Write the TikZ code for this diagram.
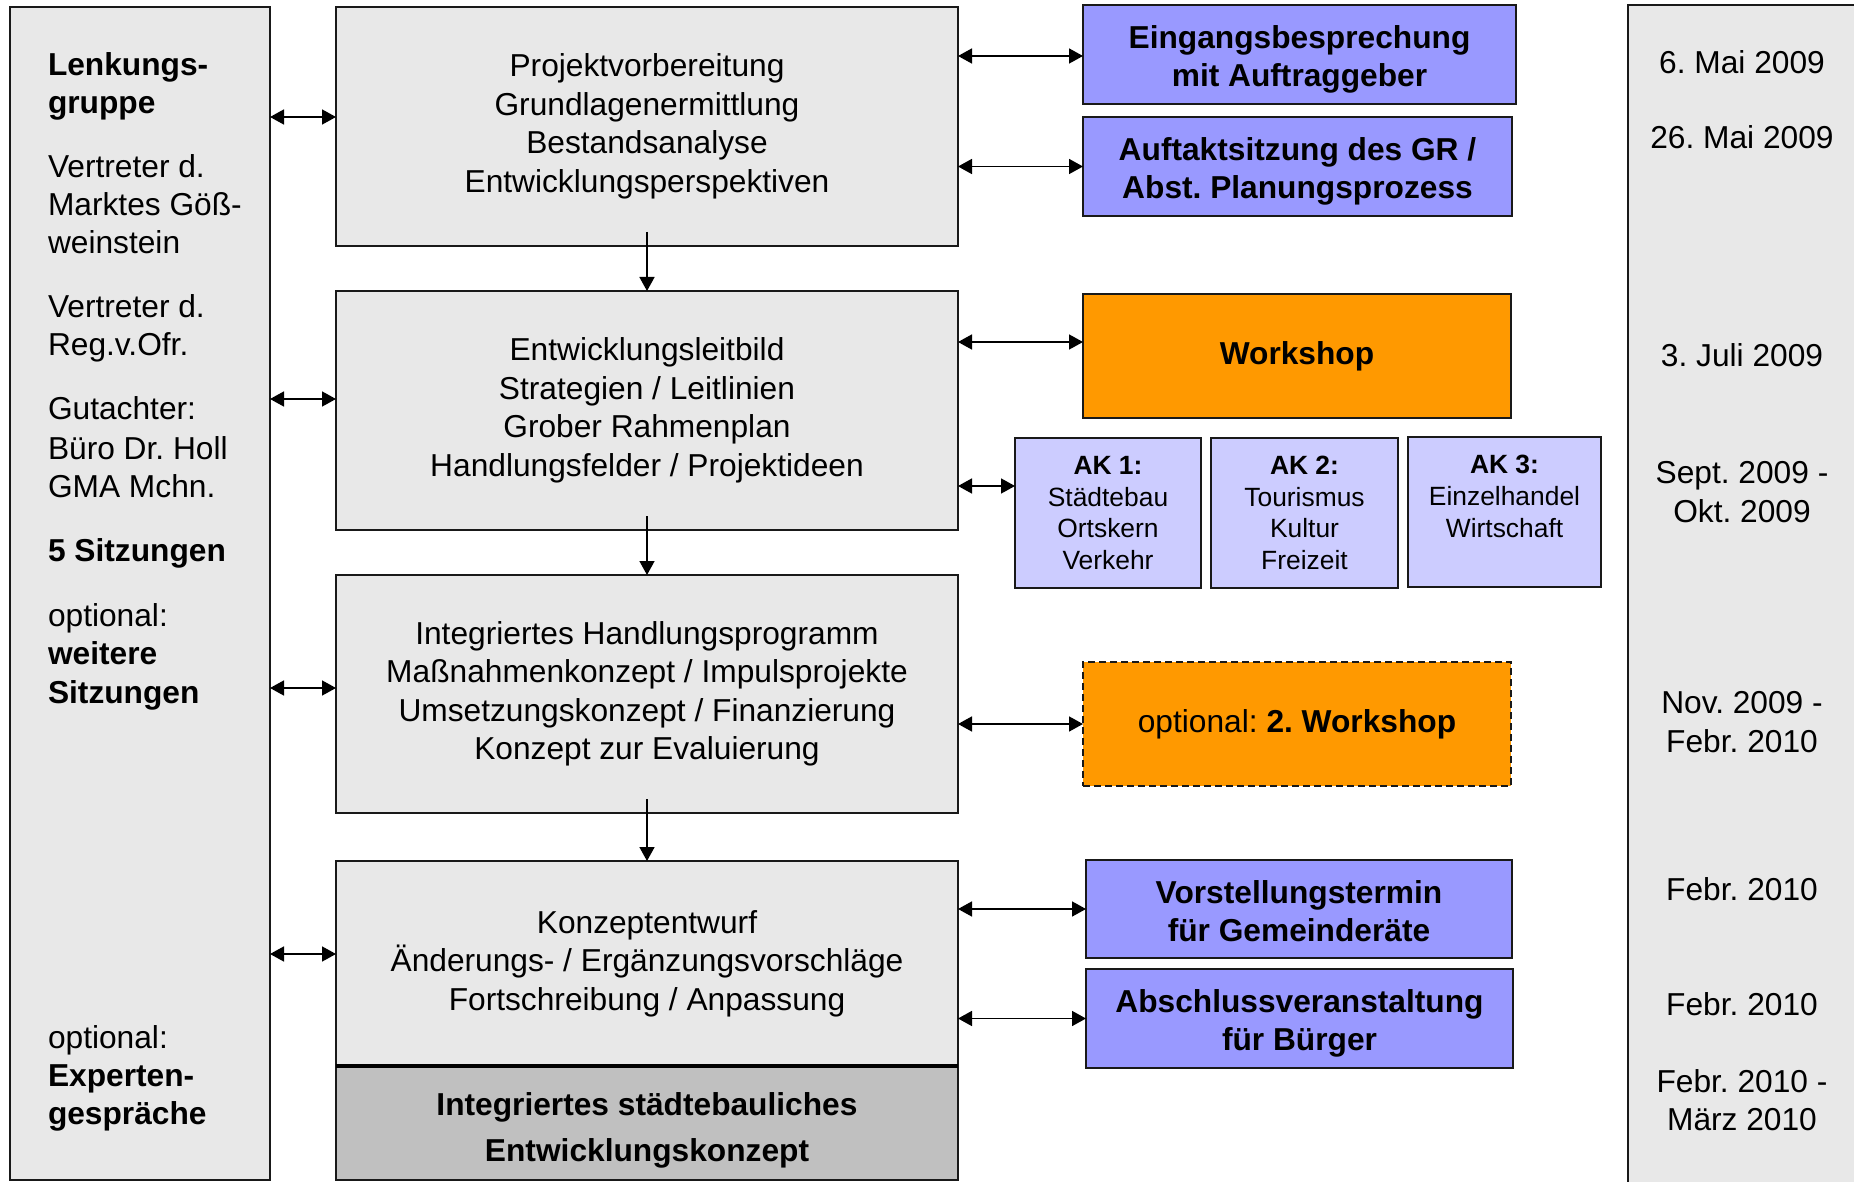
\documentclass[tikz,border=0pt]{standalone}
\usepackage{fontspec}
\setmainfont{Liberation Sans}
\usetikzlibrary{arrows.meta}
\definecolor{lgray}{HTML}{E8E8E8}
\definecolor{dgray}{HTML}{C0C0C0}
\definecolor{vblue}{HTML}{9999FF}
\definecolor{lblue}{HTML}{CCCCFF}
\definecolor{vorange}{HTML}{FF9900}
\newcommand\mainfs{\fontsize{15.85pt}{19.25pt}\selectfont}
\newcommand\akfs{\fontsize{13.2pt}{15.9pt}\selectfont}
\newcommand\topstrut[1]{\rule{0pt}{#1}}
\tikzset{
  every node/.style={font=\mainfs, inner sep=0pt, outer sep=0pt},
  box/.style={draw=black!90, line width=0.9pt, anchor=north west, align=center},
  mainbox/.style={box, fill=lgray, minimum width=311pt},
  bluebox/.style={box, fill=vblue, font=\mainfs\bfseries},
  akbox/.style={box, fill=lblue, font=\akfs, minimum width=93pt, minimum height=75pt},
  orangebox/.style={box, fill=vorange, minimum width=214pt, minimum height=62pt},
  ltext/.style={anchor=base west},
  dtext/.style={anchor=base},
  tipA/.tip={Triangle[length=7pt,width=7.5pt]},
  dbl/.style={tipA-tipA, line width=0.8pt},
  down/.style={-tipA, line width=0.8pt}
}
\begin{document}
\frenchspacing
\begin{tikzpicture}[x=0.5pt,y=-0.5pt]
\useasboundingbox (0,0) rectangle (1854,1182);
% right date column
\fill[lgray] (1628,5) rectangle (1854,1182);
\draw[black!90, line width=0.9pt] (1628,1182) -- (1628,5) -- (1854,5);
% left column
\node[box, fill=lgray, minimum width=130pt, minimum height=586.5pt] (left) at (10,7) {};
\node[ltext, font=\mainfs\bfseries] (l1) at (48,76) {Lenkungs-};
\node[ltext, font=\mainfs\bfseries] (l2) at (48,114) {gruppe};
\node[ltext] (l3) at (48,178) {Vertreter d.};
\node[ltext] (l4) at (48,216) {Marktes Göß-};
\node[ltext] (l5) at (48,254) {weinstein};
\node[ltext] (l6) at (48,318) {Vertreter d.};
\node[ltext] (l7) at (48,356) {Reg.v.Ofr.};
\node[ltext] (l8) at (48,420) {Gutachter:};
\node[ltext] (l9) at (48,459) {Büro Dr. Holl};
\node[ltext] (l10) at (48,497) {GMA Mchn.};
\node[ltext, font=\mainfs\bfseries] (l11) at (48,561) {5 Sitzungen};
\node[ltext] (l12) at (48,626) {optional:};
\node[ltext, font=\mainfs\bfseries] (l13) at (48,664) {weitere};
\node[ltext, font=\mainfs\bfseries] (l14) at (48,703) {Sitzungen};
\node[ltext] (l15) at (48,1048) {optional:};
\node[ltext, font=\mainfs\bfseries] (l16) at (48,1086) {Experten-};
\node[ltext, font=\mainfs\bfseries] (l17) at (48,1124) {gespräche};
% main column
\node[mainbox, minimum height=119.5pt] (b1) at (336,7)
  {Projektvorbereitung\\Grundlagenermittlung\\Bestandsanalyse\\Entwicklungsperspektiven};
\node[mainbox, minimum height=119.5pt] (b2) at (336,291)
  {Entwicklungsleitbild\\Strategien / Leitlinien\\Grober Rahmenplan\\Handlungsfelder / Projektideen};
\node[mainbox, minimum height=119pt] (b3) at (336,575)
  {Integriertes Handlungsprogramm\\Maßnahmenkonzept / Impulsprojekte\\Umsetzungskonzept / Finanzierung\\Konzept zur Evaluierung};
\node[mainbox, minimum height=102.5pt] (b4) at (336,861)
  {Konzeptentwurf\\Änderungs- / Ergänzungsvorschläge\\Fortschreibung / Anpassung};
\node[box, fill=dgray, minimum width=311pt, minimum height=57pt,
      font=\fontsize{15.85pt}{23pt}\selectfont\bfseries] (b5) at (336,1066)
  {\topstrut{18.6pt}Integriertes städtebauliches\\Entwicklungskonzept};
\draw[black, line width=1.6pt] (b5.north west) -- (b5.north east);
% right event boxes
\node[bluebox, minimum width=216.5pt, minimum height=49.5pt] (e1) at (1083,5)
  {\topstrut{16.3pt}Eingangsbesprechung\\mit Auftraggeber};
\node[bluebox, minimum width=214.5pt, minimum height=49.5pt] (e2) at (1083,117)
  {\topstrut{16.3pt}Auftaktsitzung des GR /\\Abst. Planungsprozess};
\node[orangebox, font=\mainfs\bfseries] (ws) at (1083,294) {Workshop};
\node[akbox] (ak1) at (1015,438) {\textbf{AK 1:}\\Städtebau\\Ortskern\\Verkehr};
\node[akbox, minimum width=93.5pt] (ak2) at (1211,438) {\textbf{AK 2:}\\Tourismus\\Kultur\\Freizeit};
\node[akbox, minimum width=96.5pt] (ak3) at (1408,437) {\textbf{AK 3:}\\Einzelhandel\\Wirtschaft\\\mbox{}};
\node[orangebox, dash pattern=on 3.5pt off 2pt] (ows) at (1083,662) {optional: \textbf{2. Workshop}};
\node[bluebox, minimum width=213pt, minimum height=49pt] (v1) at (1086,860)
  {\topstrut{13.5pt}Vorstellungstermin\\für Gemeinderäte};
\node[bluebox, minimum width=213.5pt, minimum height=49.5pt] (v2) at (1086,969)
  {\topstrut{16.3pt}Abschlussveranstaltung\\für Bürger};
% dates
\node[dtext] (d1) at (1742,74) {6. Mai 2009};
\node[dtext] (d2) at (1742,149) {26. Mai 2009};
\node[dtext] (d3) at (1742,367) {3. Juli 2009};
\node[dtext] (d4) at (1742,483) {Sept. 2009 -};
\node[dtext] (d5) at (1742,522) {Okt. 2009};
\node[dtext] (d6) at (1742,713) {Nov. 2009 -};
\node[dtext] (d7) at (1742,752) {Febr. 2010};
\node[dtext] (d8) at (1742,900) {Febr. 2010};
\node[dtext] (d9) at (1742,1015) {Febr. 2010};
\node[dtext] (d10) at (1742,1092) {Febr. 2010 -};
\node[dtext] (d11) at (1742,1130) {März 2010};
% left connectors
\draw[dbl] (left.east |- 0,117) -- (b1.west |- 0,117);
\draw[dbl] (left.east |- 0,399) -- (b2.west |- 0,399);
\draw[dbl] (left.east |- 0,688) -- (b3.west |- 0,688);
\draw[dbl] (left.east |- 0,954) -- (b4.west |- 0,954);
% right connectors
\draw[dbl] (b1.east |- 0,56) -- (e1.west |- 0,56);
\draw[dbl] (b1.east |- e2.west) -- (e2.west);
\draw[dbl] (b2.east |- 0,342) -- (ws.west |- 0,342);
\draw[dbl] (b2.east |- 0,486) -- (ak1.west |- 0,486);
\draw[dbl] (b3.east |- ows.west) -- (ows.west);
\draw[dbl] (b4.east |- v1.west) -- (v1.west);
\draw[dbl] (b4.east |- v2.west) -- (v2.west);
% downward connectors
\draw[down] ([yshift=7pt]b1.south) -- (b2.north);
\draw[down] ([yshift=7pt]b2.south) -- (b3.north);
\draw[down] ([yshift=7pt]b3.south) -- (b4.north);
\end{tikzpicture}
\end{document}
